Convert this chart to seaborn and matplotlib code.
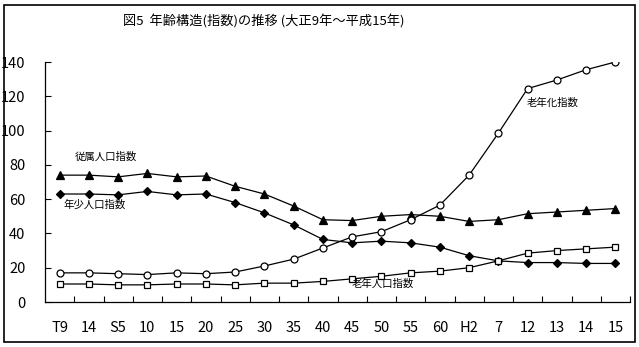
import matplotlib
matplotlib.use("Agg")
import matplotlib.pyplot as plt
from matplotlib.patches import Rectangle
import seaborn as sns
import pandas as pd
import numpy as np

# 年次ラベル（大正9年～平成15年）
years = ["T9", "14", "S5", "10", "15", "20", "25", "30", "35", "40",
         "45", "50", "55", "60", "H2", "7", "12", "13", "14", "15"]

# 各指数
dependent = [74, 74, 73, 75, 73, 73.5, 67.5, 63, 56, 48,
             47.5, 50, 51, 50, 47, 48, 51.5, 52.5, 53.5, 54.5]
youth = [63, 63, 62.5, 64.5, 62.5, 63, 58, 52, 45, 36.5,
         34.5, 35.5, 34.5, 32, 27, 24, 23, 23, 22.5, 22.5]
aging = [17, 17, 16.5, 16, 17, 16.5, 17.5, 21, 25, 31.5,
         38, 41, 48, 56.5, 74, 98.5, 124.5, 129.5, 135.5, 140]
elderly = [10.5, 10.5, 10, 10, 10.5, 10.5, 10, 11, 11, 12,
           13.5, 15, 17, 18, 20, 24, 28.5, 30, 31, 32]

series_names = ["従属人口指数", "年少人口指数", "老年化指数", "老年人口指数"]
series_values = [dependent, youth, aging, elderly]

sns.set_theme(style="white")
plt.rcParams["font.family"] = ["Noto Sans CJK JP", "DejaVu Sans"]

rows = []
for name, vals in zip(series_names, series_values):
    for i, v in enumerate(vals):
        rows.append({"pos": i, "value": v, "series": name})
df = pd.DataFrame(rows)

fig = plt.figure(figsize=(6.39, 3.47), dpi=100)
ax = fig.add_axes([45 / 639, 45 / 347, 585 / 639, 240 / 347])

marker_style = {
    "従属人口指数": dict(marker="^", markersize=6, markerfacecolor="black", markeredgecolor="black"),
    "年少人口指数": dict(marker="D", markersize=4, markerfacecolor="black", markeredgecolor="black"),
    "老年化指数": dict(marker="o", markersize=5, markerfacecolor="white", markeredgecolor="black"),
    "老年人口指数": dict(marker="s", markersize=5, markerfacecolor="white", markeredgecolor="black"),
}

for name in series_names:
    sub = df[df["series"] == name]
    sns.lineplot(data=sub, x="pos", y="value", ax=ax, color="black",
                 linewidth=0.9, markeredgewidth=0.9, legend=False,
                 **marker_style[name])

ax.set_xlim(-0.5, len(years) - 0.5)
ax.set_ylim(0, 140)
ax.set_xlabel("")
ax.set_ylabel("")

# 目盛り：区切り位置に内向きの目盛り、中央に年次ラベル
ax.set_xticks(np.arange(0.5, len(years) - 0.5, 1.0).tolist() + [len(years) - 0.5])
ax.set_xticklabels([])
ax.set_xticks(np.arange(len(years)), minor=True)
ax.set_xticklabels(years, minor=True)
ax.tick_params(axis="x", which="major", direction="in", length=4, width=0.8, color="black")
ax.tick_params(axis="x", which="minor", length=0, pad=14, labelsize=10.5, labelcolor="black")
ax.set_yticks(range(0, 141, 20))
ax.tick_params(axis="y", direction="in", length=4, width=0.8, color="black",
               pad=14, labelsize=10.5, labelcolor="black", left=True)
ax.tick_params(axis="x", which="major", bottom=True)

for side in ["top", "right"]:
    ax.spines[side].set_visible(False)
for side in ["left", "bottom"]:
    ax.spines[side].set_color("black")
    ax.spines[side].set_linewidth(0.9)

# 系列ラベル
lab = dict(fontsize=7.5, color="black", ha="left", va="center")
ax.text(0.53, 85, "従属人口指数", **lab)
ax.text(0.12, 56.5, "年少人口指数", **lab)
ax.text(15.98, 116.5, "老年化指数", **lab)
ax.text(10.0, 10.5, "老年人口指数", **lab)

fig.text(264 / 639, 1 - 22 / 347, "図5  年齢構造(指数)の推移 (大正9年～平成15年)",
         ha="center", va="center", fontsize=9.5, color="black")

# 外枠
fig.patches.append(Rectangle((4 / 639, 5 / 347), 631 / 639, 337 / 347,
                             transform=fig.transFigure, fill=False,
                             edgecolor="black", linewidth=1.2))

fig.savefig("out.png", dpi=100, facecolor="white")
